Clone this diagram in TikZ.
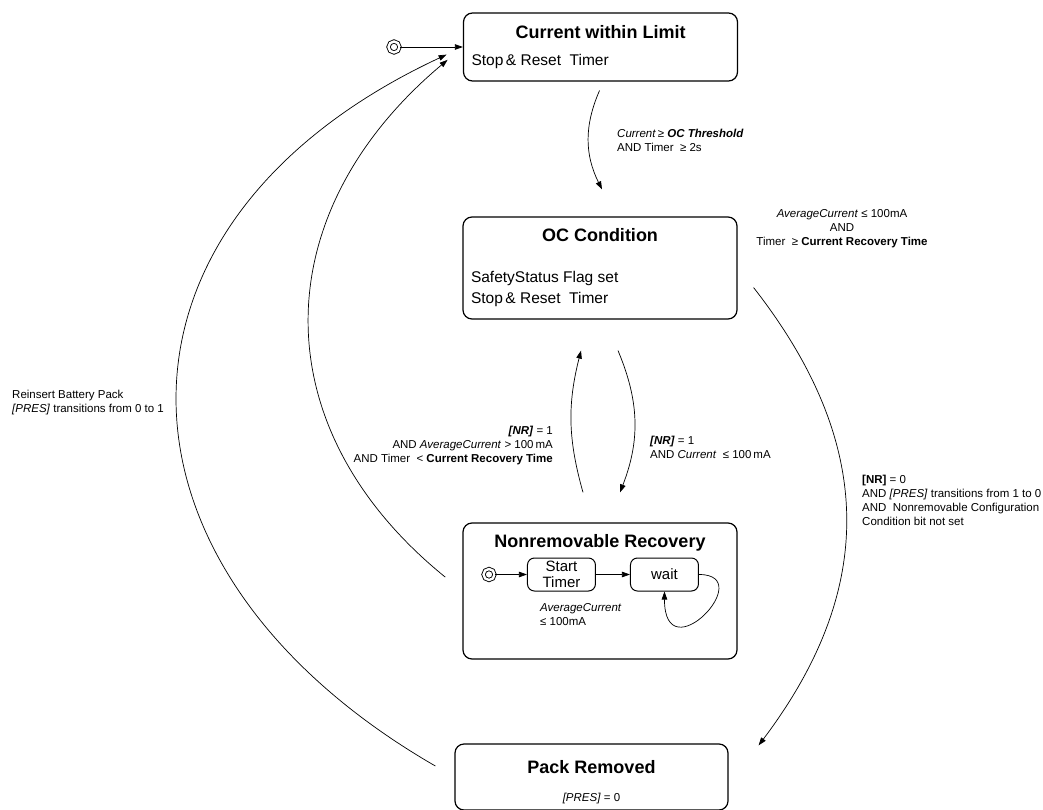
\documentclass[tikz,border=0pt]{standalone}
\usepackage{fontspec}
\setmainfont{Liberation Sans}
\usetikzlibrary{arrows.meta,positioning}
\newcommand{\titlefont}{\fontsize{18}{22}\selectfont\bfseries}
\newcommand{\bodyfont}{\fontsize{15.5}{21}\selectfont}
\newcommand{\subfont}{\fontsize{15}{16}\selectfont}
\newcommand{\condfont}{\fontsize{11.5}{14}\selectfont}
\tikzset{
    %Define standard arrow tip
    >={Triangle[length=8pt,width=5.5pt]},
    %Define style for states
    statebox/.style={
           rectangle,
           rounded corners=9pt,
           draw=black, line width=1.2pt,
           minimum width=274pt,
           align=center,
           font=\bodyfont,
           },
    substate/.style={
           rectangle,
           rounded corners=7pt,
           draw=black, line width=1pt,
           minimum width=68pt,
           minimum height=33pt,
           inner sep=1pt,
           align=center,
           font=\subfont,
           },
    initial/.style={
           circle,
           draw=black, line width=0.9pt,
           double, double distance=2.4pt,
           minimum size=11pt,
           inner sep=0pt,
           },
    cond/.style={
           inner sep=0pt,
           font=\condfont,
           },
    % Define arrow style
    pil/.style={
           ->,
           line width=0.7pt,},
}
\begin{document}
\begin{tikzpicture}[x=1pt,y=-1pt]
\useasboundingbox (0,0) rectangle (1043,810);
% states
\node[statebox, minimum height=68pt] (cwl) at (600.5,47) {{\titlefont Current within Limit}\\[6pt]\makebox[258pt][l]{Stop\,\& Reset\ \ Timer}};
\node[initial] (init) at (394,47) {};
\node[statebox, minimum height=102pt] (oc) at (600,268) {{\titlefont OC Condition}\\[20pt]\makebox[258pt][l]{SafetyStatus Flag set}\\\makebox[258pt][l]{Stop\,\& Reset\ \ Timer}};
\node[statebox, minimum height=136pt] (nr) at (600,591) {};
\node[font=\titlefont, inner sep=0pt, below=12pt of nr.north] (nrtitle) {Nonremovable Recovery};
\node[initial] (nrinit) at (489,574.5) {};
\node[substate, right=32pt of nrinit] (st) {Start\\Timer};
\node[substate, right=34pt of st] (wait) {wait};
\node[cond, anchor=north west, align=left] (avg) at (540,603) {\textit{AverageCurrent}\\≤ 100mA};
\node[statebox, minimum width=273pt, minimum height=66pt] (pr) at (591.5,777) {\rule{0pt}{23pt}{\titlefont Pack Removed}\\[7pt]{\condfont\textit{[PRES]} = 0}};
% transition labels
\node[cond, anchor=west, align=left] (l1) at (617,140) {\textit{Current}\,≥ \textbf{\textit{OC Threshold}}\\AND Timer\ \ ≥ 2s};
\node[cond, align=center] (l2) at (842,229) {\textit{AverageCurrent} ≤ 100mA\\AND\\Timer\ \ ≥ \textbf{Current Recovery Time}};
\node[cond, anchor=east, align=right] (l3) at (553,446) {\textbf{\textit{[NR]}} = 1\\AND \textit{AverageCurrent} > 100\,mA\\AND Timer\ \ < \textbf{Current Recovery Time}};
\node[cond, anchor=west, align=left] (l4) at (650,447) {\textbf{\textit{[NR]}} = 1\\AND \textit{Current}\ \ ≤ 100\,mA};
\node[cond, anchor=west, align=left] (l5) at (862,500) {\textbf{[NR]} = 0\\AND \textit{[PRES]} transitions from 1 to 0\\AND\ \ Nonremovable Configuration\\Condition bit not set};
\node[cond, anchor=west, align=left] (l6) at (12,403) {Reinsert Battery Pack\\\textit{[PRES]} transitions from 0 to 1};
% transitions
\draw[pil] (init) -- (cwl);
\draw[pil] ([xshift=-1pt,yshift=-9pt]cwl.south) to[bend right=25] ([xshift=2pt,yshift=27pt]oc.north);
\draw[pil] ([xshift=18pt,yshift=-31pt]oc.south) to[bend left=22] ([xshift=20pt,yshift=30pt]nr.north);
\draw[pil] ([xshift=-17pt,yshift=30pt]nr.north) to[bend left=15] ([xshift=-19pt,yshift=-31pt]oc.south);
\draw[pil] ([xshift=16pt,yshift=32pt]oc.south east) to[out=-52,in=53,looseness=1.1] ([xshift=30pt,yshift=-2pt]pr.north east);
\draw[pil, shorten <=22pt, shorten >=18pt] (pr.west) to[out=150,in=205,looseness=1.46] (cwl.west);
\draw[pil, shorten <=22pt, shorten >=20pt] (nr.west) to[out=141,in=220,looseness=1.22] (cwl.west);
\draw[pil] (nrinit) -- (st);
\draw[pil] (st) -- (wait);
\draw[pil] (wait.east) to[out=0,in=-90,out looseness=4,in looseness=5.5] (wait.south);
\end{tikzpicture}
\end{document}
